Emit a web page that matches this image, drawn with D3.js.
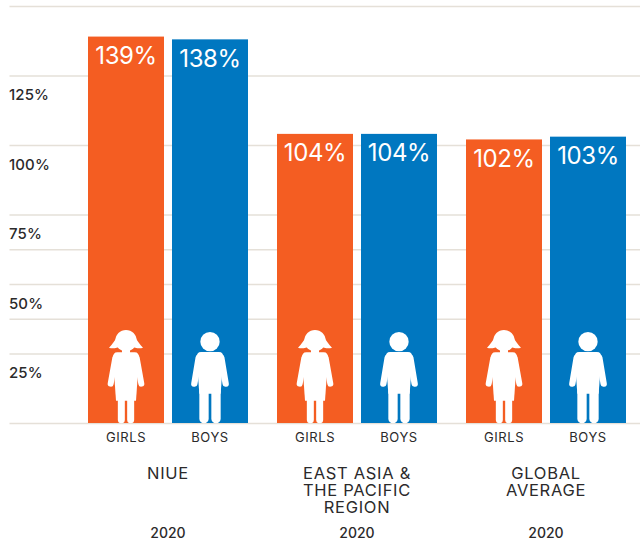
<!DOCTYPE html>
<html>
<head>
<meta charset="utf-8">
<script src="https://cdn.jsdelivr.net/npm/d3@7/dist/d3.min.js"></script>
<style>
  html, body { margin: 0; padding: 0; background: #fff; }
  svg { display: block; }
  text { font-family: Inter, "Open Sans", sans-serif; }
</style>
</head>
<body>
<svg id="chart" width="640" height="542"></svg>
<script>
// Gross enrolment ratios for 2020, by region and sex
const regions = ["NIUE", "EAST ASIA &|THE PACIFIC|REGION", "GLOBAL|AVERAGE"];
const sexes = ["GIRLS", "BOYS"];
const girlsValues = [139, 104, 102];
const boysValues = [138, 104, 103];
const years = ["2020", "2020", "2020"];
const gridValues = [0, 25, 37.5, 50, 62.5, 75, 100, 125, 150];
const tickValues = [25, 50, 75, 100, 125];

const ORANGE = "#F45D22", BLUE = "#0077C0", GRID = "#E5E0D8", INK = "#2B2A2B";

const svg = d3.select("#chart");

const y = d3.scaleLinear().domain([0, 150]).range([423, 6]);
const x0 = d3.scaleBand().domain(regions).range([88, 626]).paddingInner(29 / 189).paddingOuter(0);
const x1 = d3.scaleBand().domain(sexes).range([0, 160]).paddingInner(8 / 84).paddingOuter(0);

// Gridlines, behind the bars
const grid = svg.append("g").attr("transform", "translate(9.5,0)")
  .call(d3.axisRight(y).tickValues(gridValues).tickSize(631).tickFormat(""));
grid.select(".domain").remove();
grid.selectAll("line").attr("stroke", GRID).attr("stroke-width", 1.6);

// Percent labels sit below their gridlines
const yAxis = svg.append("g").attr("transform", "translate(9,0)")
  .call(d3.axisRight(y).tickValues(tickValues).tickSize(0).tickPadding(0).tickFormat(d => d + "%"));
yAxis.select(".domain").remove();
yAxis.selectAll("text")
  .attr("dy", 24)
  .attr("font-size", 15)
  .attr("font-weight", 500)
  .attr("letter-spacing", 0.1)
  .attr("fill", INK)
  .style("font-family", "Inter, sans-serif");

// Pictograms, drawn at three times size with the feet at y = 0 and the centre at x = 0
function drawGirl(g) {
  g.append("circle").attr("fill", "#fff").attr("cx", 0).attr("cy", -247).attr("r", 32);
  g.append("path").attr("fill", "#fff").attr("d",
    "M-26,-262 C-32,-248 -42,-236 -51,-226 C-40,-222 -28,-224 -16,-232 L16,-232 " +
    "C28,-224 40,-222 51,-226 C42,-236 32,-248 26,-262 Z");
  g.append("rect").attr("fill", "#fff").attr("x", -12).attr("y", -232).attr("width", 24).attr("height", 24);
  g.append("path").attr("fill", "#fff").attr("d",
    "M-26,-212 L26,-212 C35,-212 39,-206 39,-196 L30,-67 L-30,-67 L-39,-196 C-39,-206 -35,-212 -26,-212 Z");
  g.selectAll("line.arm").data([-1, 1]).join("line").attr("class", "arm")
    .attr("x1", d => d * 32).attr("y1", -196).attr("x2", d => d * 46).attr("y2", -118)
    .attr("stroke", "#fff").attr("stroke-width", 18).attr("stroke-linecap", "round");
  g.selectAll("line.leg").data([-1, 1]).join("line").attr("class", "leg")
    .attr("x1", d => d * 14).attr("y1", -70).attr("x2", d => d * 14).attr("y2", -10)
    .attr("stroke", "#fff").attr("stroke-width", 21).attr("stroke-linecap", "round");
}

function drawBoy(g) {
  g.append("circle").attr("fill", "#fff").attr("cx", 0).attr("cy", -244).attr("r", 29);
  g.append("path").attr("fill", "#fff").attr("d",
    "M-27,-213 L27,-213 C36,-213 40,-207 40,-197 L32,-88 L-32,-88 L-40,-197 C-40,-207 -36,-213 -27,-213 Z");
  g.selectAll("line.arm").data([-1, 1]).join("line").attr("class", "arm")
    .attr("x1", d => d * 34).attr("y1", -196).attr("x2", d => d * 47).attr("y2", -118)
    .attr("stroke", "#fff").attr("stroke-width", 19).attr("stroke-linecap", "round");
  g.selectAll("line.leg").data([-1, 1]).join("line").attr("class", "leg")
    .attr("x1", d => d * 18).attr("y1", -95).attr("x2", d => d * 18).attr("y2", -13)
    .attr("stroke", "#fff").attr("stroke-width", 28).attr("stroke-linecap", "round");
}

const series = [
  { sex: "GIRLS", values: girlsValues, color: ORANGE, icon: drawGirl },
  { sex: "BOYS", values: boysValues, color: BLUE, icon: drawBoy }
];

regions.forEach((region, i) => {
  const group = svg.append("g").attr("transform", `translate(${x0(region)},0)`);

  series.forEach(s => {
    const value = s.values[i];
    const left = x1(s.sex), mid = left + x1.bandwidth() / 2;

    group.append("rect")
      .attr("x", left).attr("y", y(value))
      .attr("width", x1.bandwidth()).attr("height", y(0) - y(value))
      .attr("fill", s.color);

    group.append("text")
      .attr("x", mid).attr("y", y(value) + 27.5)
      .attr("text-anchor", "middle")
      .attr("font-size", 24).attr("font-weight", 400)
      .attr("letter-spacing", -0.4)
      .attr("fill", "#fff")
      .text(value + "%");

    s.icon(group.append("g").attr("transform", `translate(${mid},${y(0)}) scale(${1 / 3})`));

    group.append("text")
      .attr("x", mid).attr("y", 442)
      .attr("text-anchor", "middle")
      .attr("font-size", 13).attr("font-weight", 400)
      .attr("letter-spacing", 0.6)
      .attr("fill", INK)
      .text(s.sex);
  });

  // Region name, one tspan per line
  const centre = x0.bandwidth() / 2;
  const title = group.append("text")
    .attr("text-anchor", "middle")
    .attr("font-size", 16.5).attr("font-weight", 400)
    .attr("letter-spacing", 0.7)
    .attr("fill", INK);
  region.split("|").forEach((line, k) => {
    title.append("tspan").attr("x", centre).attr("y", 479 + k * 17).text(line);
  });

  group.append("text")
    .attr("x", centre).attr("y", 538)
    .attr("text-anchor", "middle")
    .attr("font-size", 14).attr("font-weight", 500)
    .attr("fill", INK)
    .text(years[i]);
});
</script>
</body>
</html>
